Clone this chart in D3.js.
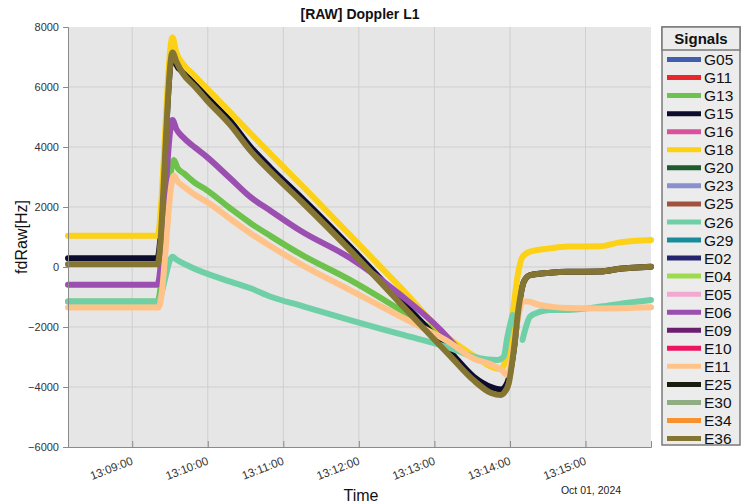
<!DOCTYPE html>
<html>
<head>
<meta charset="utf-8">
<script src="https://cdn.jsdelivr.net/npm/d3@7/dist/d3.min.js"></script>
<style>
  html, body { margin: 0; padding: 0; background: #ffffff; }
  svg { display: block; font-family: "Liberation Sans", Arial, Helvetica, sans-serif; }
</style>
</head>
<body>
<svg id="chart" width="742" height="504"></svg>
<script>
// Signal list and legend colours
const signals = ["G05","G11","G13","G15","G16","G18","G20","G23","G25","G26","G29",
                 "E02","E04","E05","E06","E09","E10","E11","E25","E30","E34","E36"];
const signalColors = ["#3f5fae","#e8262b","#6cc24a","#0c0c2c","#d9509f","#fcd116","#1d5a2e",
                      "#8a8fd0","#a0523f","#6fd0a8","#198c9c","#24246f","#9ddb4c","#f2a9d0",
                      "#9b4fb1","#6c1f70","#ec1560","#ffc38a","#1b1b10","#8fac82","#f8912f","#857533"];

// Axis ticks
const yTicks = [-6000, -4000, -2000, 0, 2000, 4000, 6000, 8000];
const xTickLabels = ["13:09:00","13:10:00","13:11:00","13:12:00","13:13:00","13:14:00","13:15:00"];
const timeRange = ["13:08:09", "13:15:52"];
const dateLabel = "Oct 01, 2024";

// Doppler series [time, fdRaw Hz]; null marks a gap in the track
const seriesG13 = [
  ["13:08:09",-1150],["13:09:20",-1150],["13:09:33",3570],["13:09:36",3300],["13:09:41",3120],
  ["13:09:50",2800],["13:09:59",2570],["13:10:18",1950],["13:10:34",1460],["13:10:50",1030],
  ["13:11:14",420],["13:11:53",-430],["13:12:33",-1430],["13:13:05",-2250]
];
const seriesG15 = [
  ["13:08:09",290],["13:09:20",290],["13:09:32",7150],["13:09:35",6750],["13:09:40",6500],
  ["13:09:50",6100],["13:09:59",5680],["13:10:18",4860],["13:10:34",4000],["13:10:50",3300],
  ["13:11:14",2330],["13:11:53",680],["13:12:33",-1100],["13:13:13",-2850],["13:13:31",-3650],
  ["13:13:45",-4000],["13:13:53",-4080],["13:13:58",-3850],["13:14:03",-2770],["13:14:07",-1320],
  ["13:14:11",-490],["13:14:16",-270],["13:14:32",-190],["13:14:46",-160],["13:15:12",-150],
  ["13:15:27",-60],["13:15:52",10]
];
const seriesG18 = [
  ["13:08:09",1040],["13:09:20",1040],["13:09:32",7650],["13:09:35",7150],["13:09:40",6790],
  ["13:09:50",6350],["13:09:59",5960],["13:10:18",5150],["13:10:34",4450],["13:10:50",3760],
  ["13:11:14",2750],["13:11:53",1060],["13:12:33",-680],["13:13:13",-2430],["13:13:31",-2950],
  ["13:13:45",-3320],["13:13:53",-3400],["13:13:58",-2770],["13:14:02",-1650],["13:14:06",-320],
  ["13:14:10",340],["13:14:16",510],["13:14:32",620],["13:14:46",680],["13:15:12",690],
  ["13:15:27",820],["13:15:52",900]
];
const seriesG26 = [
  ["13:08:09",-1150],["13:09:20",-1150],["13:09:32",340],["13:09:35",250],["13:09:46",10],
  ["13:10:18",-490],["13:10:34",-710],["13:10:50",-990],["13:11:14",-1290],["13:11:53",-1770],
  ["13:12:33",-2240],["13:13:13",-2710],["13:13:31",-2990],["13:13:50",-3100],["13:13:55",-2990],
  ["13:13:58",-2320],["13:14:02",-1600],["13:14:06",null],["13:14:10",-2430],["13:14:12",-2100],
  ["13:14:16",-1650],["13:14:24",-1490],["13:14:32",-1430],["13:14:46",-1430],["13:15:12",-1320],
  ["13:15:32",-1200],["13:15:52",-1100]
];
const seriesE06 = [
  ["13:08:09",-590],["13:09:20",-590],["13:09:32",4900],["13:09:35",4600],["13:09:40",4340],
  ["13:09:50",3980],["13:09:59",3680],["13:10:18",2950],["13:10:34",2330],["13:10:50",1870],
  ["13:11:14",1200],["13:11:53",300],["13:12:33",-930],["13:13:05",-2100],["13:13:17",-2650]
];
const seriesE11 = [
  ["13:08:09",-1350],["13:09:21",-1350],["13:09:33",3050],["13:09:36",2850],["13:09:41",2680],
  ["13:09:50",2400],["13:09:59",2180],["13:10:18",1600],["13:10:34",1120],["13:10:50",690],
  ["13:11:14",90],["13:11:53",-770],["13:12:33",-1650],["13:13:13",-2540],["13:13:31",-3050],
  ["13:13:45",-3250],["13:13:53",-3420],["13:13:58",-3600],["13:14:02",-2900],["13:14:06",-1800],
  ["13:14:10",-1150],["13:14:14",-1150],["13:14:22",-1250],["13:14:32",-1320],["13:14:46",-1370],
  ["13:15:12",-1380],["13:15:52",-1340]
];
const seriesE36 = [
  ["13:08:09",90],["13:09:20",90],["13:09:32",7150],["13:09:35",6850],["13:09:40",6460],
  ["13:09:50",6000],["13:09:59",5570],["13:10:18",4730],["13:10:34",3870],["13:10:50",3170],
  ["13:11:14",2200],["13:11:53",560],["13:12:33",-1220],["13:13:13",-2990],["13:13:31",-3770],
  ["13:13:45",-4200],["13:13:53",-4270],["13:13:55",-4210],["13:13:59",-3880],["13:14:03",-2770],
  ["13:14:07",-1320],["13:14:11",-490],["13:14:16",-270],["13:14:32",-190],["13:14:46",-160],
  ["13:15:12",-150],["13:15:27",-60],["13:15:52",10]
];

const seriesBySignal = {
  G13: seriesG13, G15: seriesG15, G18: seriesG18, G26: seriesG26,
  E06: seriesE06, E11: seriesE11, E36: seriesE36
};

// Layout
const plot = { left: 68, right: 651, top: 27, bottom: 447 };
const svg = d3.select("#chart");
const parseTime = d3.timeParse("%Y-%m-%d %H:%M:%S");
const toDate = s => parseTime("2024-10-01 " + s);

const x = d3.scaleTime()
  .domain(timeRange.map(toDate))
  .range([plot.left, plot.right]);
const y = d3.scaleLinear()
  .domain([-6000, 8000])
  .range([plot.bottom, plot.top]);

// Plot background
svg.append("rect")
  .attr("x", plot.left).attr("y", plot.top)
  .attr("width", plot.right - plot.left).attr("height", plot.bottom - plot.top)
  .attr("fill", "#e6e6e6");

// Grid
const xTickDates = xTickLabels.map(toDate);
svg.append("g").selectAll("line").data(xTickDates).join("line")
  .attr("x1", d => x(d)).attr("x2", d => x(d))
  .attr("y1", plot.top).attr("y2", plot.bottom)
  .attr("stroke", "#cfcfcf").attr("stroke-width", 1);
svg.append("g").selectAll("line").data(yTicks.slice(1, -1)).join("line")
  .attr("x1", plot.left).attr("x2", plot.right)
  .attr("y1", d => y(d)).attr("y2", d => y(d))
  .attr("stroke", "#cfcfcf").attr("stroke-width", 1);

// Series lines
const line = d3.line()
  .defined(d => d[1] !== null)
  .x(d => x(toDate(d[0])))
  .y(d => y(d[1]))
  .curve(d3.curveMonotoneX);

const lineGroup = svg.append("g");
signals.forEach((name, i) => {
  const data = seriesBySignal[name];
  if (!data) return;
  lineGroup.append("path")
    .datum(data)
    .attr("d", line)
    .attr("fill", "none")
    .attr("stroke", signalColors[i])
    .attr("stroke-width", 6)
    .attr("stroke-linejoin", "round")
    .attr("stroke-linecap", "round");
});

// Axes
const yAxis = d3.axisLeft(y).tickValues(yTicks).tickSize(5).tickPadding(4).tickFormat(d3.format("d"));
const gy = svg.append("g").attr("transform", `translate(${plot.left},0)`).call(yAxis);
gy.select(".domain").attr("stroke", "#8a8a8a");
gy.selectAll(".tick line").attr("stroke", "#8a8a8a");
gy.selectAll(".tick text").attr("font-size", 11).attr("fill", "#333")
  .attr("font-family", "Liberation Sans, Arial, sans-serif");

const xAxis = d3.axisBottom(x).tickValues(xTickDates).tickSize(-6).tickFormat((d, i) => xTickLabels[i]);
const gx = svg.append("g").attr("transform", `translate(0,${plot.bottom})`).call(xAxis);
gx.select(".domain").attr("stroke", "#8a8a8a");
gx.selectAll(".tick line").attr("stroke", "#8a8a8a");
gx.selectAll(".tick text")
  .attr("font-size", 11.5).attr("fill", "#333")
  .attr("font-family", "Liberation Sans, Arial, sans-serif")
  .attr("text-anchor", "end")
  .attr("y", 0).attr("dy", 0)
  .attr("transform", "translate(1,17) rotate(-21)");

// Titles
svg.append("text")
  .attr("x", 360).attr("y", 19)
  .attr("text-anchor", "middle")
  .attr("font-size", 14).attr("font-weight", "bold").attr("fill", "#111")
  .text("[RAW] Doppler L1");
svg.append("text")
  .attr("x", 361).attr("y", 501)
  .attr("text-anchor", "middle")
  .attr("font-size", 16).attr("fill", "#111")
  .text("Time");
svg.append("text")
  .attr("x", 591).attr("y", 494)
  .attr("text-anchor", "middle")
  .attr("font-size", 10.5).attr("fill", "#222")
  .text(dateLabel);
svg.append("text")
  .attr("transform", `translate(27,${(plot.top + plot.bottom) / 2}) rotate(-90)`)
  .attr("text-anchor", "middle")
  .attr("font-size", 16).attr("fill", "#111")
  .text("fdRaw[Hz]");

// Legend
const legend = { x: 662, y: 27, w: 78, h: 418, header: 23, first: 59.5, step: 18.05 };
const lg = svg.append("g");
lg.append("rect")
  .attr("x", legend.x).attr("y", legend.y)
  .attr("width", legend.w).attr("height", legend.h)
  .attr("fill", "#ececec").attr("stroke", "#7a7a7a").attr("stroke-width", 1.5);
lg.append("rect")
  .attr("x", legend.x).attr("y", legend.y)
  .attr("width", legend.w).attr("height", legend.header)
  .attr("fill", "#ececec").attr("stroke", "#7a7a7a").attr("stroke-width", 1.5);
lg.append("text")
  .attr("x", legend.x + legend.w / 2).attr("y", legend.y + 17)
  .attr("text-anchor", "middle")
  .attr("font-size", 15).attr("font-weight", "bold").attr("fill", "#111")
  .text("Signals");
const items = lg.selectAll("g.item").data(signals).join("g")
  .attr("class", "item")
  .attr("transform", (d, i) => `translate(0,${legend.first + i * legend.step})`);
items.append("line")
  .attr("x1", 667).attr("x2", 701).attr("y1", 0).attr("y2", 0)
  .attr("stroke", (d, i) => signalColors[i]).attr("stroke-width", 5);
items.append("text")
  .attr("x", 704).attr("y", 0).attr("dy", "0.36em")
  .attr("font-size", 15.5).attr("fill", "#111")
  .text(d => d);
</script>
</body>
</html>
